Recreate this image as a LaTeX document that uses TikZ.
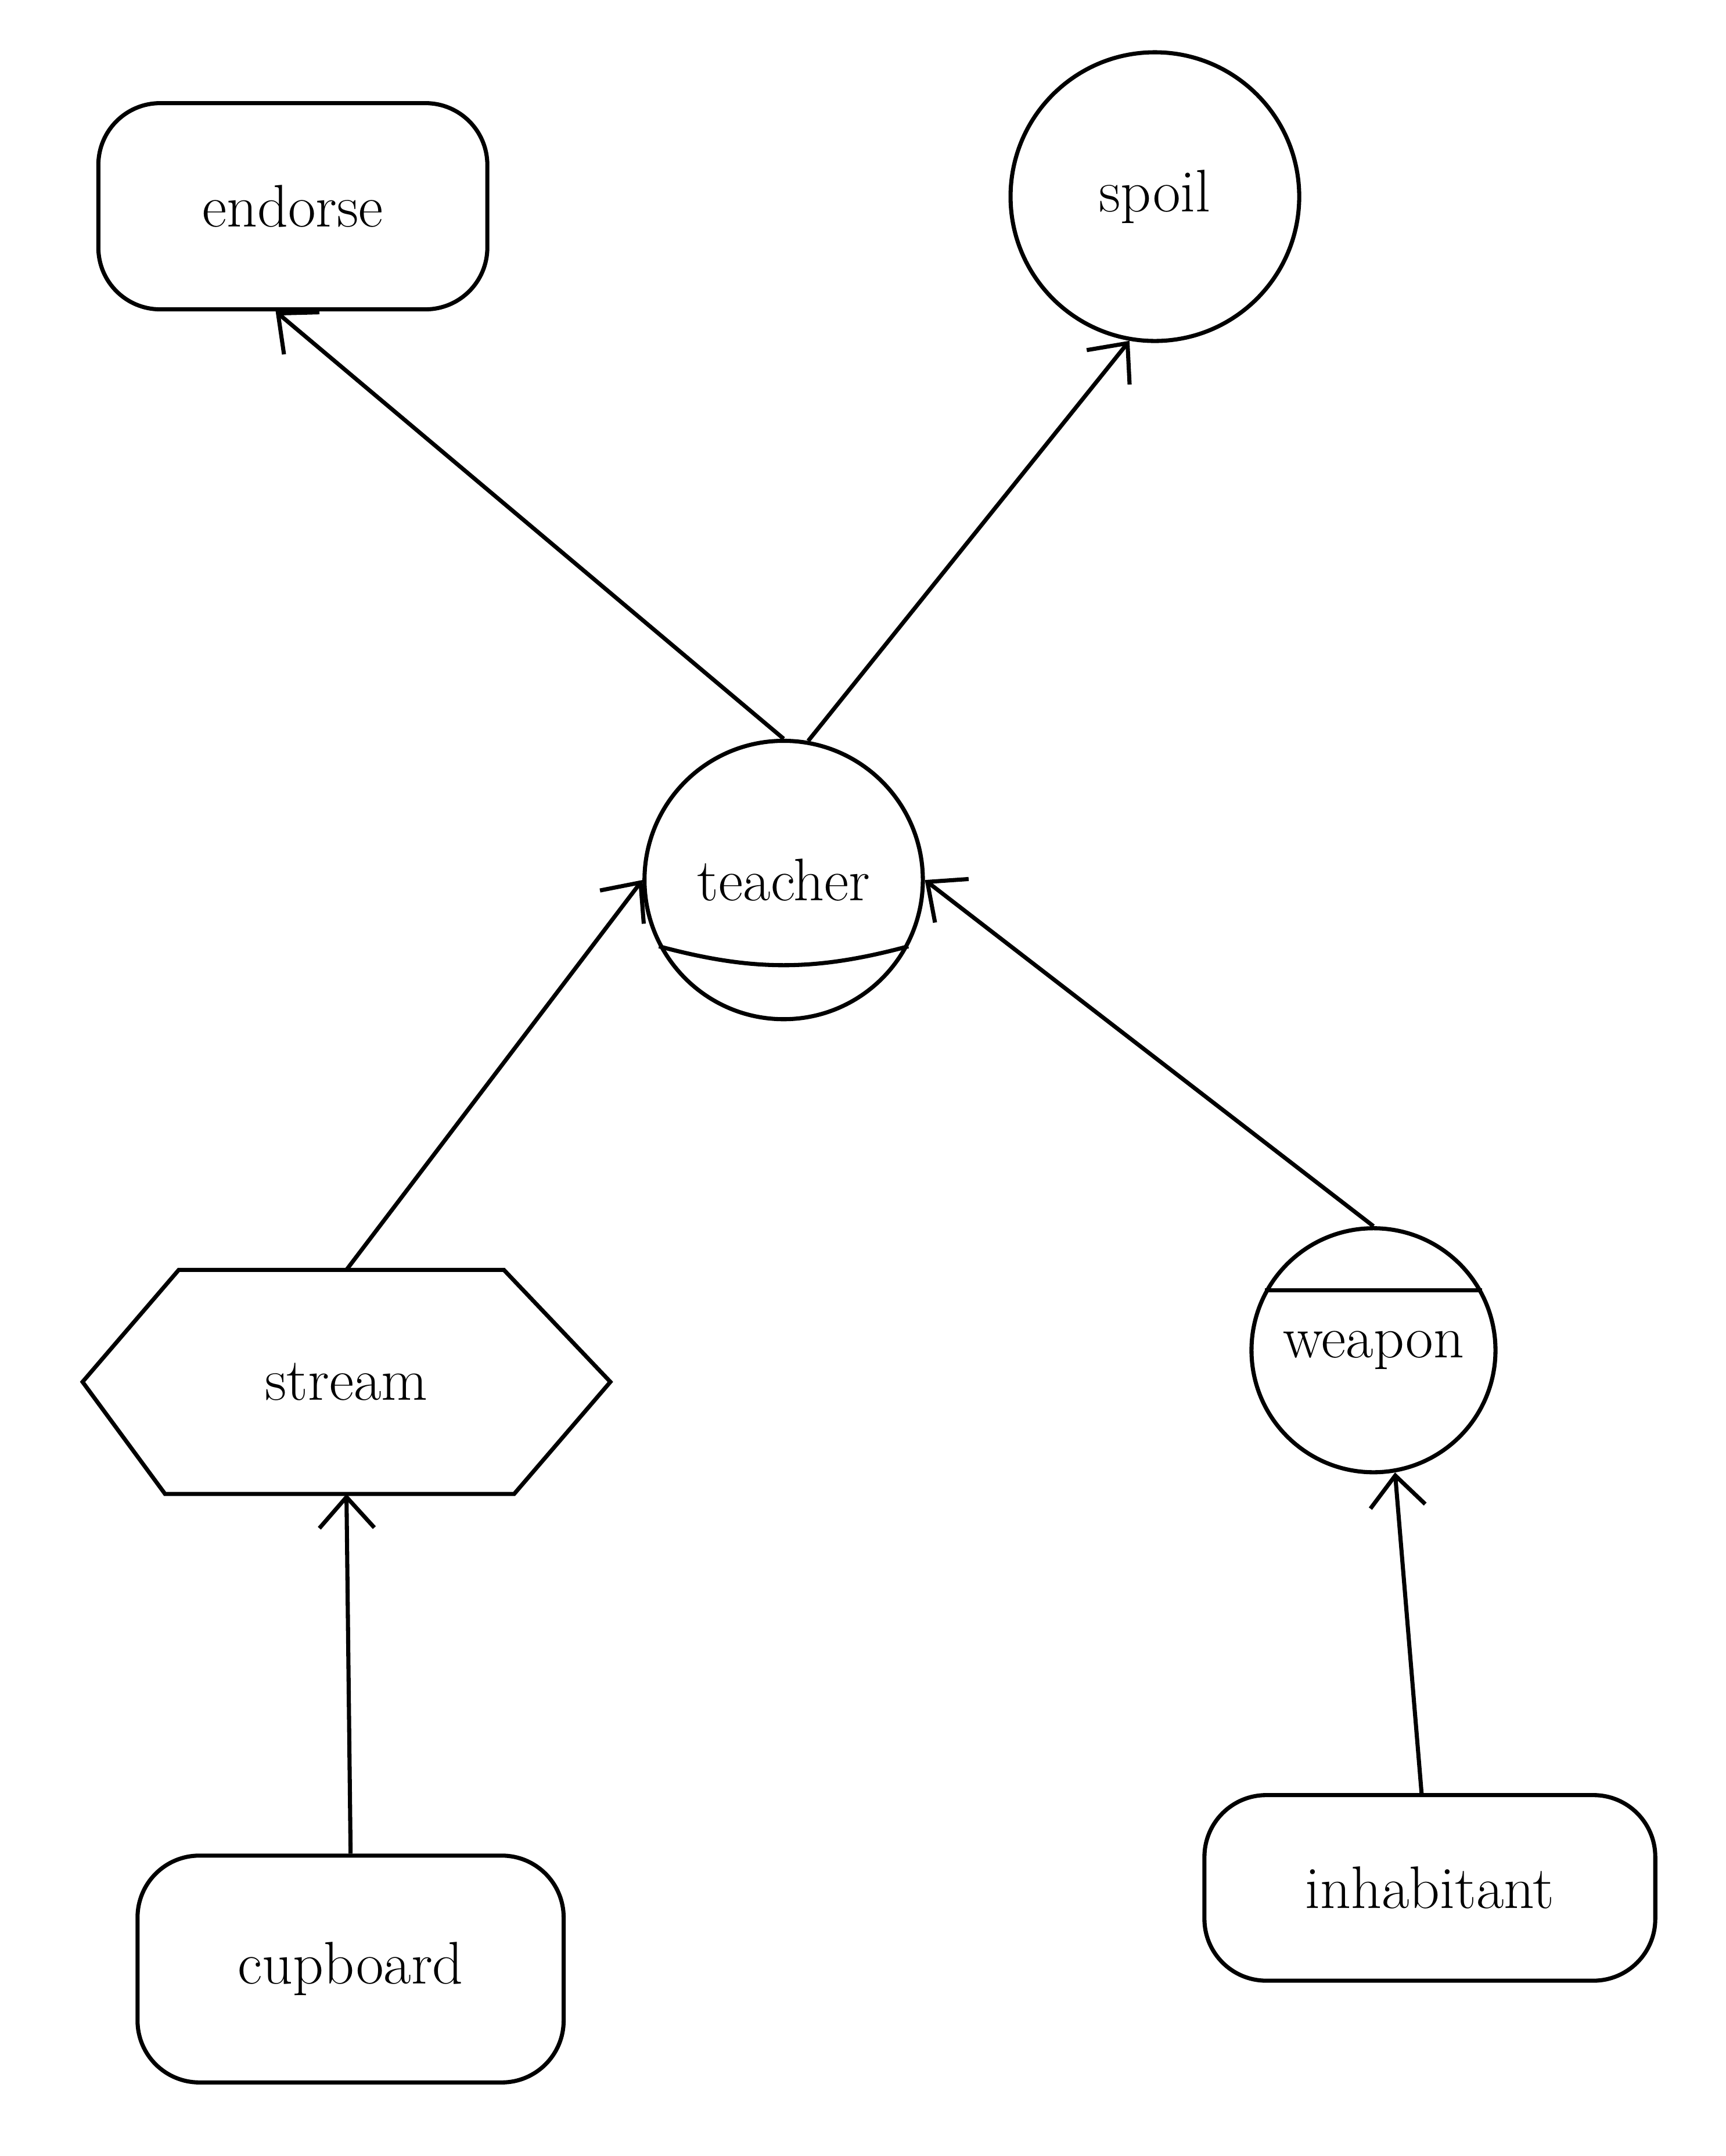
\documentclass[tikz,border=0pt]{standalone}
\usetikzlibrary{arrows.meta}
\begin{document}
\begin{tikzpicture}[x=0.02cm,y=-0.02cm,line width=1.7pt,
		roundbox/.style={draw,rounded corners=0.9cm,font=\Huge},
		ring/.style={draw,circle,font=\Huge},
		hexbox/.style={rectangle,font=\Huge,minimum width=7.62cm,minimum height=3.2cm},
		link/.style={-{Straight Barb[length=0.45cm,width=0.8cm]}}]
		\useasboundingbox (0,0) rectangle (1255,1568);
		
		\node [roundbox,minimum width=5.66cm,minimum height=3cm] (endorse) at (213,150) {endorse};
		\node [ring,minimum size=4.2cm] (spoil) at (840,143) {spoil};
		\node [ring,minimum size=4.05cm] (teacher) at (570,640) {teacher};
		\node [hexbox] (stream) at (252,1005) {stream};
		\node [ring,minimum size=3.55cm] (weapon) at (999,982) {weapon};
		\node [roundbox,minimum width=6.2cm,minimum height=3.3cm] (cupboard) at (255,1432) {cupboard};
		\node [roundbox,minimum width=6.56cm,minimum height=2.7cm] (inhabitant) at (1040,1373) {inhabitant};
		
		% inner lines
		\draw (teacher.208) to[bend right=15] (teacher.332);
		\draw (weapon.151) -- (weapon.29);
		\draw ([xshift=1.4cm]stream.north west) -- ([xshift=-1.55cm]stream.north east) -- (stream.east)
			-- ([xshift=-1.4cm]stream.south east) -- ([xshift=1.2cm]stream.south west) -- (stream.west) -- cycle;
		
		% arrows
		\draw [link] (teacher.north) -- ([xshift=-0.25cm]endorse.south);
		\draw [link] (teacher.80) -- (spoil.260);
		\draw [link] (stream.north) -- (teacher.west);
		\draw [link] (weapon.north) -- (teacher.east);
		\draw [link] (cupboard.north) -- (stream.south);
		\draw [link] (inhabitant.95) -- (weapon.-80);
\end{tikzpicture}
\end{document}
